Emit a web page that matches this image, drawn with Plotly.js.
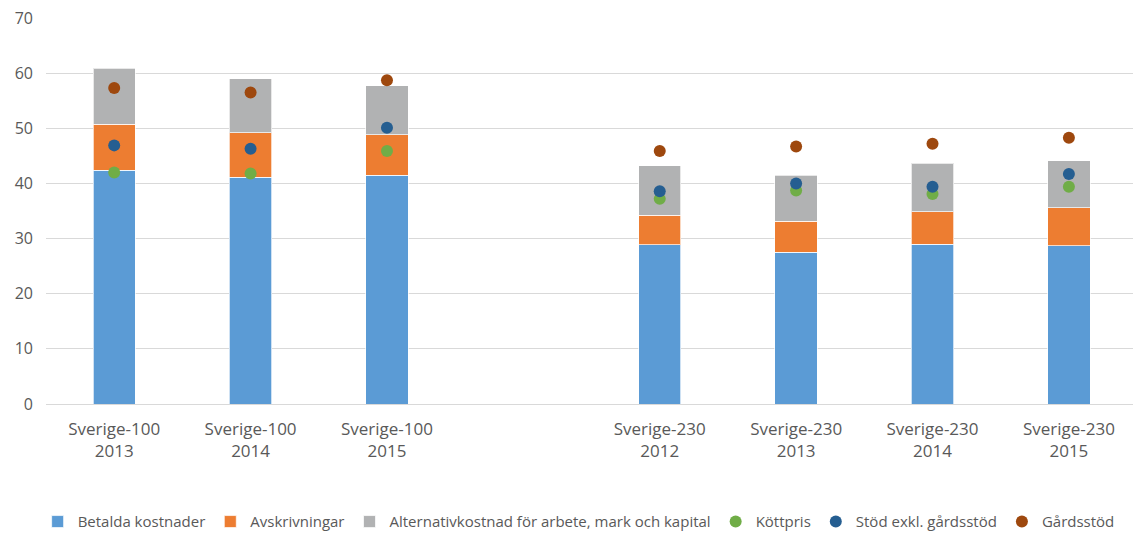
<!DOCTYPE html>
<html><head><meta charset="utf-8">
<script src="https://cdn.plot.ly/plotly-3.0.1.min.js"></script>
<style>html,body{margin:0;padding:0;background:#fff}#c{width:1133px;height:533px}</style>
</head><body><div id="c"></div>
<script>
const categories = ["Sverige-100<br>2013","Sverige-100<br>2014","Sverige-100<br>2015"," ","Sverige-230<br>2012","Sverige-230<br>2013","Sverige-230<br>2014","Sverige-230<br>2015"];
const barCats = ["Sverige-100<br>2013","Sverige-100<br>2014","Sverige-100<br>2015","Sverige-230<br>2012","Sverige-230<br>2013","Sverige-230<br>2014","Sverige-230<br>2015"];
const betalda = [42.4, 41.1, 41.5, 28.9, 27.5, 29.0, 28.7];
const avskrivningar = [8.3, 8.1, 7.3, 5.3, 5.6, 5.9, 6.9];
const alternativ = [10.2, 9.8, 8.9, 9.0, 8.4, 8.8, 8.5];
const kottpris = [42.0, 41.8, 45.9, 37.2, 38.7, 38.1, 39.4];
const stodExkl = [46.9, 46.3, 50.1, 38.6, 40.0, 39.4, 41.7];
const gardsstod = [57.3, 56.5, 58.7, 45.9, 46.7, 47.2, 48.3];
const yTicks = [0,10,20,30,40,50,60,70];

const barLine = {color:'rgba(255,255,255,0.7)', width:1};
const traces = [
  {type:'bar', name:'Betalda kostnader', x:barCats, y:betalda, marker:{color:'#5B9BD5', line:barLine}},
  {type:'bar', name:'Avskrivningar', x:barCats, y:avskrivningar, marker:{color:'#ED7D31', line:barLine}},
  {type:'bar', name:'Alternativkostnad för arbete, mark och kapital', x:barCats, y:alternativ, marker:{color:'#B1B2B3', line:barLine}},
  {type:'scatter', mode:'markers', name:'Köttpris', x:barCats, y:kottpris, marker:{color:'#70AD47', size:12}},
  {type:'scatter', mode:'markers', name:'Stöd exkl. gårdsstöd', x:barCats, y:stodExkl, marker:{color:'#255E91', size:12}},
  {type:'scatter', mode:'markers', name:'Gårdsstöd', x:barCats, y:gardsstod, marker:{color:'#9E480E', size:12}}
];
const layout = {
  width:1133, height:533,
  margin:{l:46, r:0, t:18, b:129, autoexpand:false},
  barmode:'stack', bargap:0.69,
  paper_bgcolor:'#fff', plot_bgcolor:'#fff',
  font:{family:'Open Sans, sans-serif', color:'#595959', size:16},
  showlegend:true,
  legend:{orientation:'h', x:0.49, xanchor:'center', yref:'container', y:0.021, yanchor:'middle', font:{size:15, color:'#595959'}, traceorder:'normal', itemwidth:20, tracegroupgap:0},
  xaxis:{type:'category', automargin:false, categoryorder:'array', categoryarray:categories, range:[-0.5,7.47], showgrid:false, showline:false, ticks:'', ticklabelstandoff:13, tickfont:{size:17, color:'#595959'}, fixedrange:true},
  yaxis:{automargin:false, range:[0,70], tickvals:yTicks, ticktext:yTicks.map(String), showgrid:true, gridcolor:'#D9D9D9', gridwidth:1, zeroline:true, zerolinecolor:'#D9D9D9', zerolinewidth:1, showline:false, ticks:'', ticklabelstandoff:12, tickfont:{size:16, color:'#595959'}}
};
Plotly.newPlot('c', traces, layout, {displayModeBar:false, staticPlot:true});
</script></body></html>
